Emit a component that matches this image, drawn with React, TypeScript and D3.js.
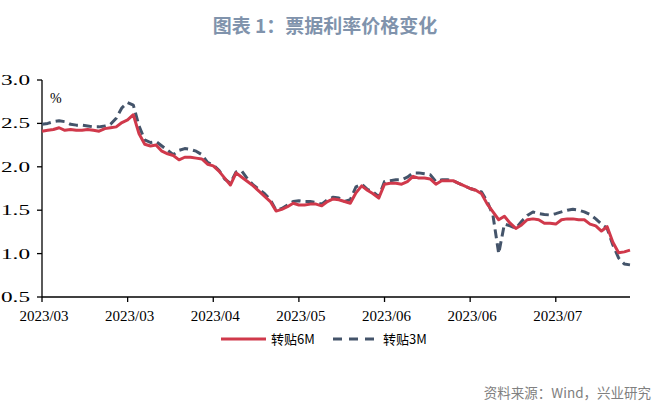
import React from "react";
import * as d3 from "d3";

const tickLabels = ["2023/03", "2023/03", "2023/04", "2023/05", "2023/06", "2023/06", "2023/07"];
const tickIndex = [0, 15, 30, 45, 60, 75, 90];
const yTicks = [0.5, 1.0, 1.5, 2.0, 2.5, 3.0];

const rate6M = [
  2.41, 2.42, 2.43, 2.45, 2.42, 2.43, 2.42, 2.42, 2.43, 2.42,
  2.41, 2.44, 2.45, 2.46, 2.51, 2.54, 2.6, 2.38, 2.26, 2.24,
  2.25, 2.18, 2.15, 2.13, 2.08, 2.11, 2.11, 2.1, 2.09, 2.03,
  2.01, 1.95, 1.87, 1.79, 1.93, 1.88, 1.83, 1.78, 1.72, 1.66,
  1.6, 1.49, 1.51, 1.54, 1.58, 1.56, 1.56, 1.57, 1.57, 1.55,
  1.6, 1.63, 1.62, 1.6, 1.58, 1.7, 1.78, 1.73, 1.69, 1.64,
  1.8, 1.81, 1.81, 1.8, 1.83, 1.89, 1.87, 1.87, 1.86, 1.8,
  1.84, 1.84, 1.84, 1.81, 1.78, 1.75, 1.73, 1.69, 1.57, 1.48,
  1.39, 1.43, 1.35, 1.29, 1.33, 1.39, 1.4, 1.39, 1.35, 1.35,
  1.34, 1.39, 1.4, 1.4, 1.39, 1.39, 1.34, 1.32, 1.26, 1.31,
  1.13, 1.01, 1.02, 1.04,
];

const rate3M = [
  2.49, 2.5, 2.52, 2.53, 2.52, 2.49, 2.48, 2.48, 2.47, 2.46,
  2.46, 2.47, 2.49, 2.56, 2.68, 2.74, 2.71, 2.47, 2.31, 2.28,
  2.29, 2.24, 2.19, 2.14, 2.19, 2.21, 2.2, 2.18, 2.14, 2.05,
  2.02, 1.96, 1.86, 1.81, 1.94, 1.95, 1.86, 1.79, 1.74, 1.69,
  1.62, 1.5, 1.52, 1.56, 1.6, 1.61, 1.6, 1.6, 1.59, 1.57,
  1.62, 1.65, 1.64, 1.6, 1.62, 1.77, 1.8, 1.74, 1.71, 1.655,
  1.83, 1.84, 1.85, 1.85, 1.88, 1.93, 1.93, 1.92, 1.91, 1.83,
  1.85, 1.85, 1.84, 1.81, 1.78, 1.75, 1.73, 1.71, 1.6, 1.44,
  1.0, 1.34, 1.32, 1.29, 1.37, 1.44, 1.48, 1.46, 1.45, 1.445,
  1.46, 1.48, 1.5, 1.51, 1.5, 1.48, 1.45, 1.4, 1.34, 1.29,
  1.1, 0.95, 0.88, 0.87,
];

const W = 661;
const H = 408;
const left = 42;
const right = 630;
const top = 80;
const bottom = 297;

const RED = "#D0394B";
const BLUE = "#44546A";

export default function App() {
  const x = d3.scaleLinear().domain([0, rate6M.length - 1]).range([left, right]);
  const y = d3.scaleLinear().domain([0.5, 3.0]).range([bottom, top]);
  const line = d3
    .line<number>()
    .x((_, i) => x(i))
    .y((d) => y(d));

  const serif = "'Liberation Serif', 'Times New Roman', serif";
  const cjk = "'Noto Sans CJK SC', 'Noto Sans', sans-serif";

  return (
    <svg
      width={W}
      height={H}
      style={{ position: "absolute", left: 0, top: 0, background: "#fff" }}
    >
      <text
        x={325}
        y={33}
        textAnchor="middle"
        fontFamily={cjk}
        fontSize={19}
        fontWeight="bold"
        fill="#8093AC"
      >
        图表 1：票据利率价格变化
      </text>

      {/* y axis */}
      <line x1={left} x2={left} y1={top} y2={bottom} stroke="#000" strokeWidth={1.3} />
      {yTicks.map((t) => (
        <g key={t}>
          <line x1={left - 5} x2={left} y1={y(t)} y2={y(t)} stroke="#000" strokeWidth={1.3} />
          <text
            x={30}
            y={y(t) + 5}
            textAnchor="end"
            fontFamily={serif}
            fontSize={14.5}
            textLength={29}
            lengthAdjust="spacingAndGlyphs"
            fill="#000"
          >
            {t.toFixed(1)}
          </text>
        </g>
      ))}
      <text x={50} y={103} fontFamily={serif} fontSize={14} fill="#000">
        %
      </text>

      {/* x axis */}
      <line x1={left} x2={right} y1={bottom} y2={bottom} stroke="#000" strokeWidth={1.3} />
      {tickIndex.map((ti, k) => (
        <g key={k}>
          <line x1={x(ti)} x2={x(ti)} y1={bottom} y2={bottom + 5} stroke="#000" strokeWidth={1.3} />
          <text
            x={x(ti) + 2}
            y={321}
            textAnchor="middle"
            fontFamily={serif}
            fontSize={15}
            fill="#000"
          >
            {tickLabels[k]}
          </text>
        </g>
      ))}

      <path
        d={line(rate3M) || ""}
        fill="none"
        stroke={BLUE}
        strokeWidth={3}
        strokeDasharray="9,5"
        strokeLinejoin="round"
      />
      <path
        d={line(rate6M) || ""}
        fill="none"
        stroke={RED}
        strokeWidth={3}
        strokeLinejoin="round"
      />

      {/* legend */}
      <line x1={221} x2={266} y1={339} y2={339} stroke={RED} strokeWidth={3} />
      <text x={271} y={344} fontFamily={cjk} fontSize={13} fill="#000">
        转贴6M
      </text>
      <line
        x1={333}
        x2={378}
        y1={339}
        y2={339}
        stroke={BLUE}
        strokeWidth={3}
        strokeDasharray="9,7"
      />
      <text x={383} y={344} fontFamily={cjk} fontSize={13} fill="#000">
        转贴3M
      </text>

      <text
        x={651}
        y={398}
        textAnchor="end"
        fontFamily={cjk}
        fontSize={13.5}
        fill="#808080"
      >
        资料来源：Wind，兴业研究
      </text>
    </svg>
  );
}
